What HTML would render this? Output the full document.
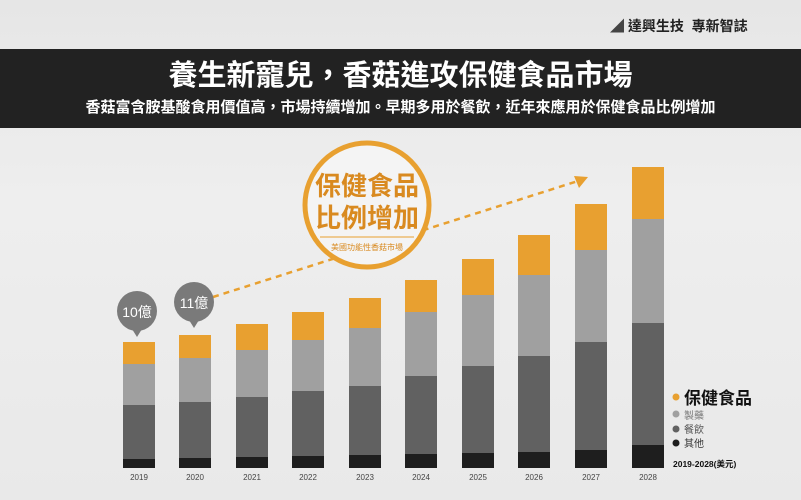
<!DOCTYPE html>
<html><head><meta charset="utf-8"><style>
html,body{margin:0;padding:0}
body{width:801px;height:500px;overflow:hidden;background:linear-gradient(180deg,#e6e6e6,#eeeeee 40%,#e9e9e9);font-family:"Liberation Sans","Noto Sans CJK TC",sans-serif;position:relative}
.t{position:absolute;white-space:nowrap}
</style></head><body>
<div class="t" style="left:610px;top:16px;font-size:14px;font-weight:bold;color:#222"><span style="color:#444">◢</span> 達興生技 &nbsp;專新智誌</div>
<div style="position:absolute;left:0;top:49px;width:801px;height:79px;background:#222"></div>
<div class="t" style="left:0;width:801px;text-align:center;top:58px;font-size:29px;font-weight:bold;color:#fff;line-height:36px">養生新寵兒，香菇進攻保健食品市場</div>
<div class="t" style="left:0;width:801px;text-align:center;top:98px;font-size:15px;font-weight:bold;color:#fff;line-height:20px">香菇富含胺基酸食用價值高，市場持續增加。早期多用於餐飲，近年來應用於保健食品比例增加</div>
<svg width="801" height="500" style="position:absolute;left:0;top:0">
<g id="bars"></g>
<line x1="213" y1="297" x2="578" y2="181" stroke="#e8a030" stroke-width="2.5" stroke-dasharray="6,5"/>
<polygon points="588,177 574,176 579,188" fill="#e8a030"/>
<circle cx="367" cy="205" r="62" fill="#f4f4f4" stroke="#e8a030" stroke-width="5"/>
<text x="367" y="195" text-anchor="middle" font-size="26" font-weight="bold" fill="#d98a20" font-family="Liberation Sans,Noto Sans CJK TC,sans-serif">保健食品</text>
<text x="367" y="227" text-anchor="middle" font-size="26" font-weight="bold" fill="#d98a20" font-family="Liberation Sans,Noto Sans CJK TC,sans-serif">比例增加</text>
<line x1="320" y1="237" x2="414" y2="237" stroke="#e8a030" stroke-width="1"/>
<text x="367" y="250" text-anchor="middle" font-size="8" fill="#d98a20" font-family="Liberation Sans,Noto Sans CJK TC,sans-serif">美國功能性香菇市場</text>
<circle cx="137" cy="311" r="20" fill="#7a7a7a"/><polygon points="132,329 142,329 137,337" fill="#7a7a7a"/>
<text x="137" y="317" text-anchor="middle" font-size="14" fill="#fff" font-family="Liberation Sans,Noto Sans CJK TC,sans-serif">10億</text>
<circle cx="194" cy="302" r="20" fill="#7a7a7a"/><polygon points="189,320 199,320 194,328" fill="#7a7a7a"/>
<text x="194" y="308" text-anchor="middle" font-size="14" fill="#fff" font-family="Liberation Sans,Noto Sans CJK TC,sans-serif">11億</text>
<g font-family="Liberation Sans,Noto Sans CJK TC,sans-serif">
<circle cx="676" cy="397" r="3.5" fill="#e8a030"/><text x="684" y="404" font-size="17" font-weight="bold" fill="#111">保健食品</text>
<circle cx="676" cy="414" r="3.5" fill="#a0a0a0"/><text x="684" y="419" font-size="10" fill="#777">製藥</text>
<circle cx="676" cy="429" r="3.5" fill="#616161"/><text x="684" y="433" font-size="10" fill="#555">餐飲</text>
<circle cx="676" cy="443" r="3.5" fill="#1e1e1e"/><text x="684" y="447" font-size="10" fill="#333">其他</text>
<text x="673" y="467" font-size="8.5" font-weight="bold" fill="#111">2019-2028(美元)</text>
</g>
</svg>
<script>
var d=[[123,342,364,405,459,"2019"],[179,335,358,402,458,"2020"],[236,324,350,397,457,"2021"],[292,312,340,391,456,"2022"],[349,298,328,386,455,"2023"],[405,280,312,376,454,"2024"],[462,259,295,366,453,"2025"],[518,235,275,356,452,"2026"],[575,204,250,342,450,"2027"],[632,167,219,323,445,"2028"]];
var s="";var c=["#e8a030","#a0a0a0","#616161","#1e1e1e"];
d.forEach(function(b){var y=[b[1],b[2],b[3],b[4],468];for(var i=0;i<4;i++)s+='<rect x="'+b[0]+'" y="'+y[i]+'" width="32" height="'+(y[i+1]-y[i])+'" fill="'+c[i]+'"/>';
s+='<text x="'+(b[0]+16)+'" y="480" text-anchor="middle" font-size="8" fill="#444" font-family="Liberation Sans,sans-serif">'+b[5]+'</text>';});
document.getElementById("bars").innerHTML=s;
</script>
</body></html>
